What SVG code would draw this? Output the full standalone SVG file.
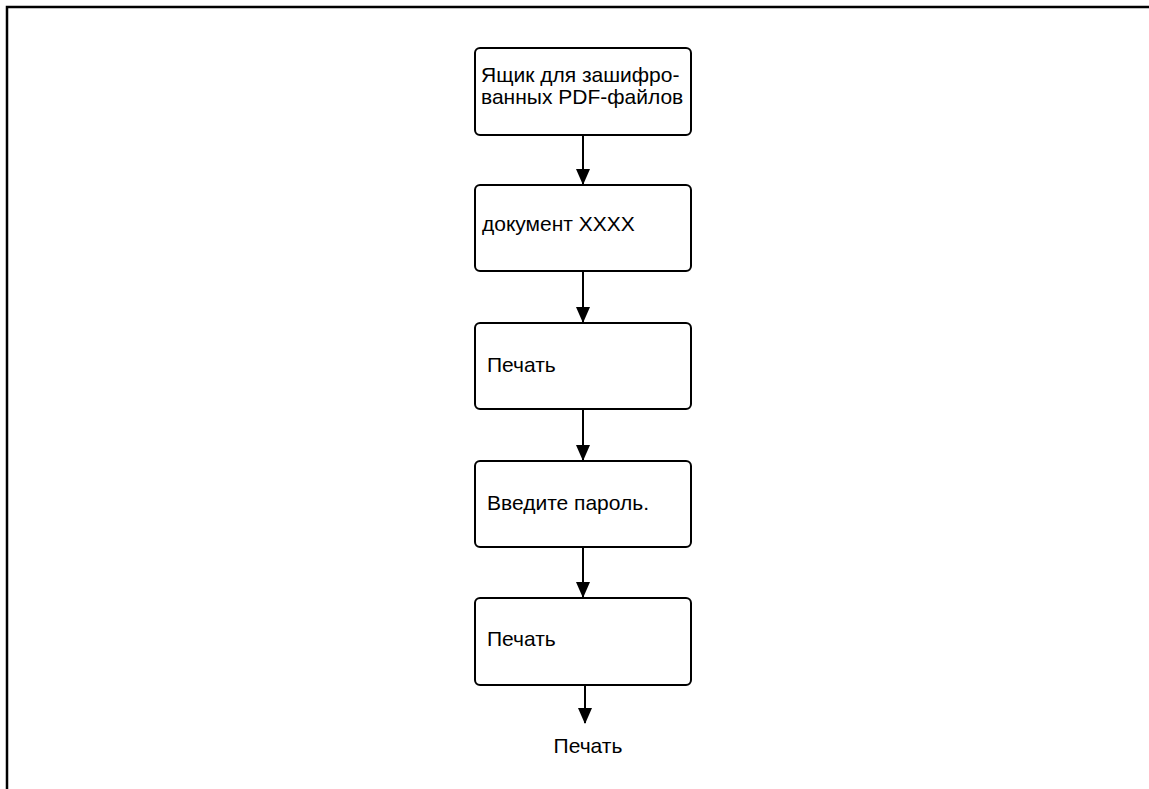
<svg xmlns="http://www.w3.org/2000/svg" width="1149" height="789" viewBox="0 0 1149 789">
<defs>
<style>
.box{fill:#fff;stroke:#000;stroke-width:2}
.t{font-family:"Liberation Sans",Arial,sans-serif;font-size:21px;fill:#000}
.c{stroke:#000;stroke-width:2;fill:none}
</style>
<marker id="a" markerWidth="16" markerHeight="14" refX="15" refY="7" orient="auto" markerUnits="userSpaceOnUse" viewBox="0 0 16 14">
<path d="M0,0 L16,7 L0,14 Z" fill="#000"/>
</marker>
</defs>
<path d="M7,789 L7,7 L1149,7" fill="none" stroke="#000" stroke-width="2.5"/>
<g id="connectors">
<line class="c" x1="583" y1="135" x2="583" y2="184" marker-end="url(#a)"/>
<line class="c" x1="583" y1="271" x2="583" y2="322" marker-end="url(#a)"/>
<line class="c" x1="583" y1="409" x2="583" y2="460" marker-end="url(#a)"/>
<line class="c" x1="583" y1="547" x2="583" y2="597" marker-end="url(#a)"/>
<line class="c" x1="585" y1="685" x2="585" y2="723" marker-end="url(#a)"/>
</g>
<g id="n1"><rect class="box" x="475" y="48" width="216" height="87" rx="5"/><text class="t" x="481" y="82">Ящик для зашифро-</text><text class="t" x="481" y="104">ванных PDF-файлов</text></g>
<g id="n2"><rect class="box" x="475" y="185" width="216" height="86" rx="5"/><text class="t" x="482" y="231">документ XXXX</text></g>
<g id="n3"><rect class="box" x="475" y="323" width="216" height="86" rx="5"/><text class="t" x="487" y="372">Печать</text></g>
<g id="n4"><rect class="box" x="475" y="461" width="216" height="86" rx="5"/><text class="t" x="487" y="510">Введите пароль.</text></g>
<g id="n5"><rect class="box" x="475" y="598" width="216" height="87" rx="5"/><text class="t" x="487" y="646">Печать</text></g>
<g id="n6"><text class="t" x="588" y="753" text-anchor="middle">Печать</text></g>
</svg>
